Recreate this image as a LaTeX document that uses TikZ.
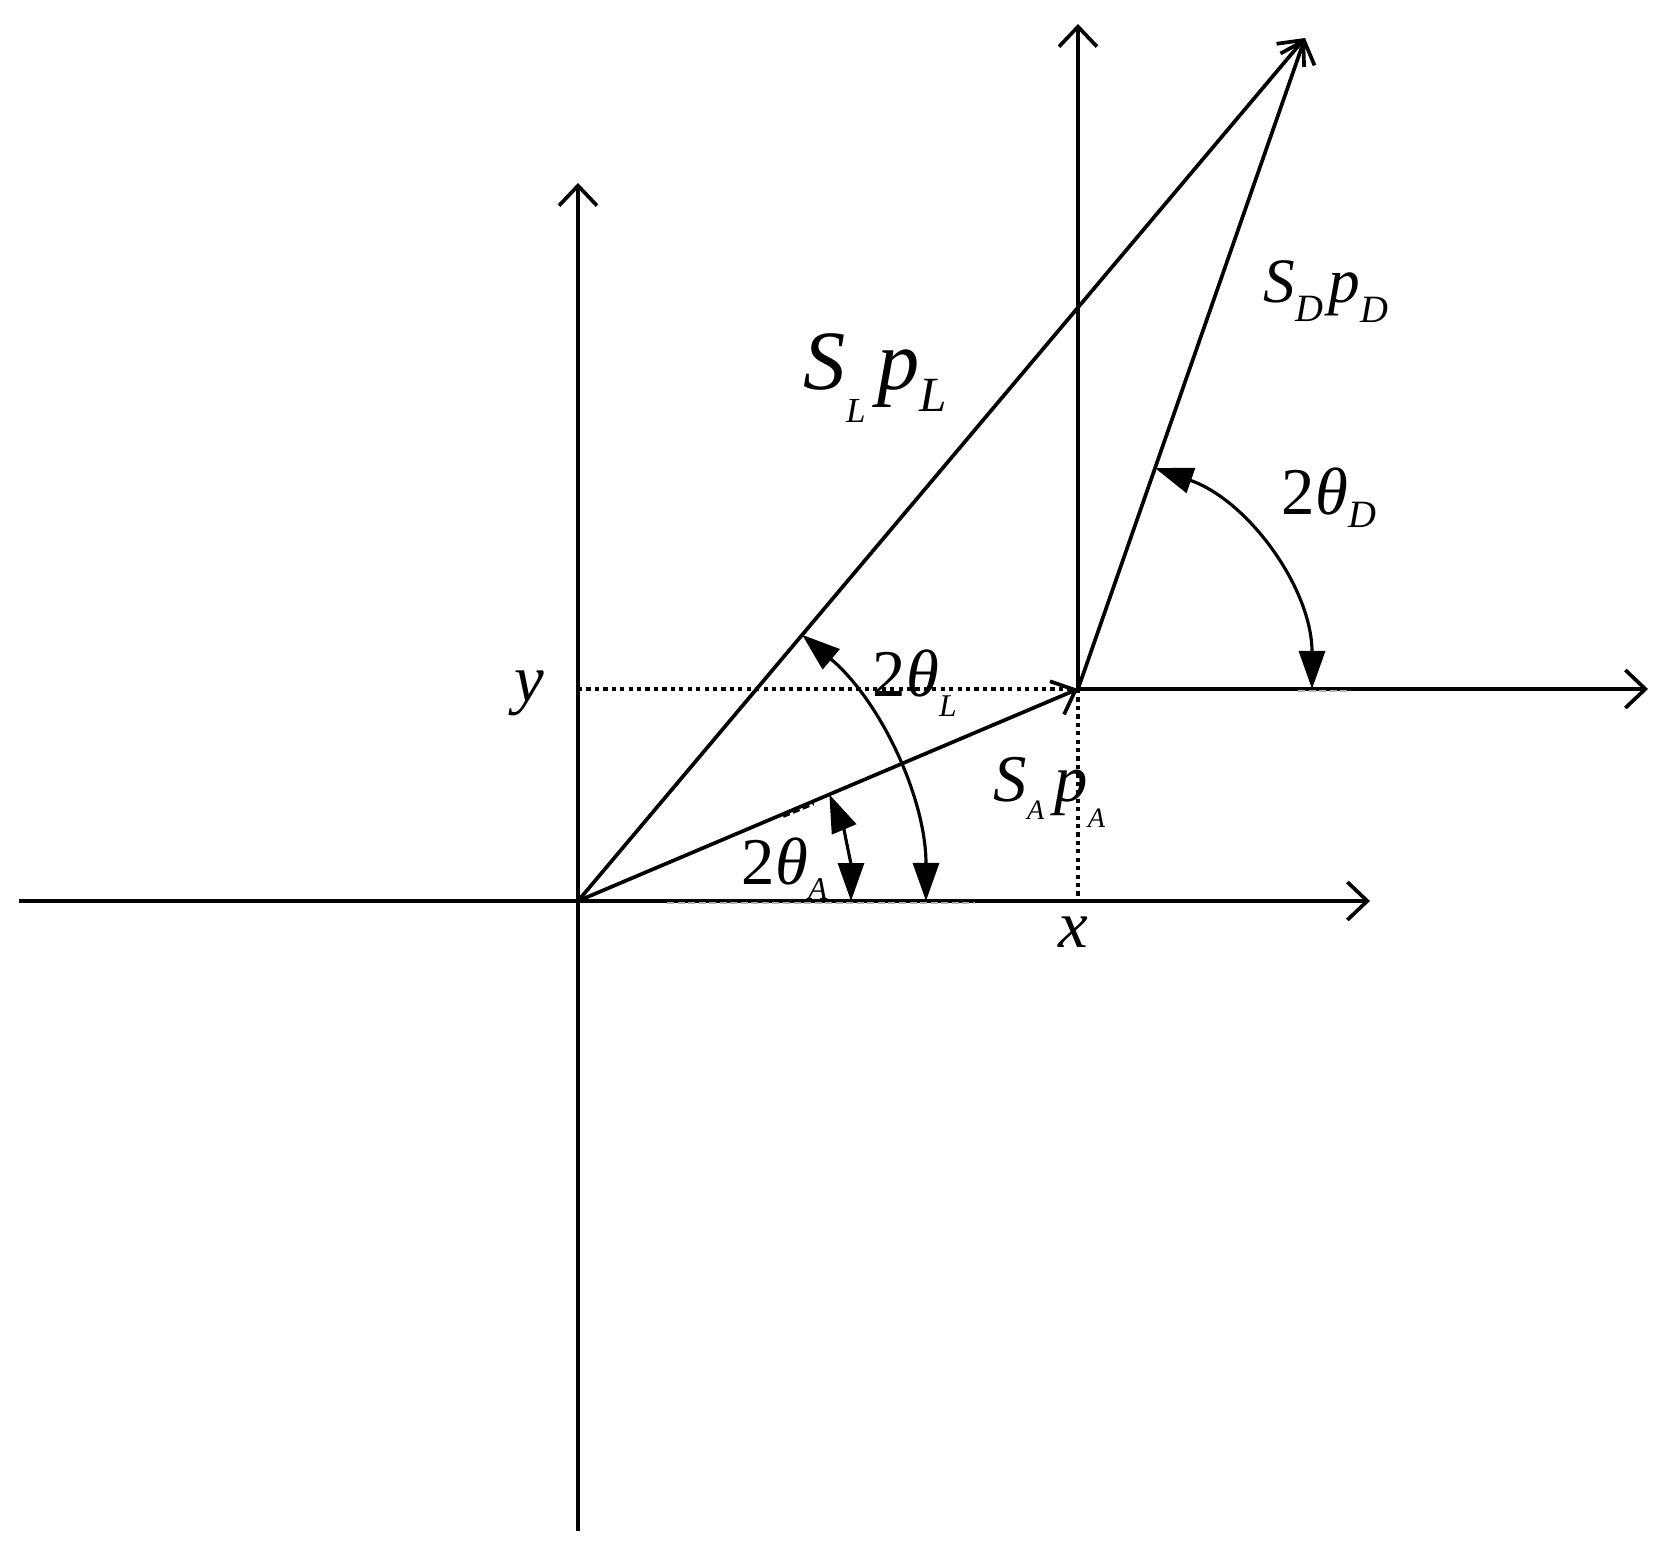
\documentclass[tikz,border=0pt]{standalone}
\usepackage{fontspec}
\setmainfont{Liberation Serif}
\usetikzlibrary{arrows.meta}
% lowered small italic letter: drop, size, letter
\newcommand{\lsub}[3]{\raisebox{-#1}{\fontsize{#2}{#2}\selectfont\itshape #3}}

\begin{document}
\begin{tikzpicture}[line width=1.05pt,
  axis/.style={-{Straight Barb[length=2mm,width=3.8mm]}},
  vec/.style={-{Straight Barb[length=2mm,width=3.6mm]}},
  ang/.style={{Triangle[length=3.8mm,width=2.6mm]}-{Triangle[length=3.8mm,width=2.6mm]}, line width=0.9pt},
  guide/.style={dash pattern=on 1.2pt off 1.2pt},
  trace/.style={gray!60, dash pattern=on 2pt off 1pt, line width=0.8pt},
  lbl/.style={anchor=base west, inner sep=0pt, font=\fontsize{19}{21}\selectfont}]
  \useasboundingbox (-5.78,-6.55) rectangle (10.94,9.01);
  % points
  \coordinate (o) at (0,0);
  \coordinate (p) at (5.00,2.12);
  \coordinate (t) at (7.27,8.63);
  \coordinate (xl) at (-5.59,0);
  \coordinate (xr) at (7.92,0);
  \coordinate (yb) at (0,-6.30);
  \coordinate (yt) at (0,7.18);
  \coordinate (px) at (5.00,0);
  \coordinate (py) at (0,2.12);
  \coordinate (ut) at (5.00,8.77);
  \coordinate (ur) at (10.70,2.12);
  % axes
  \draw [axis] (xl) -- (xr);
  \draw [axis] (yb) -- (yt);
  \draw [axis] (p) -- (ut);
  \draw [axis] (p) -- (ur);
  % projections of p
  \draw [guide] (py) -- (p);
  \draw [guide] (p) -- (px);
  % leftover dashes
  \draw [trace] (0.89,-0.02) -- (3.97,-0.02);
  \draw [trace] (7.20,2.10) -- (7.69,2.10);
  \draw [dash pattern=on 2pt off 1pt, line width=1.3pt] (22.6:2.22) -- (22.6:2.55);
  % vectors
  \draw [vec] (o) -- (p);
  \draw [vec] (o) -- (t);
  \draw [vec] (p) -- (t);
  % angles
  \draw [ang] (22.98:2.73) arc (22.98:0:2.73);
  \draw [ang] (49.89:3.48) arc (49.89:0:3.48);
  \draw [ang] ([shift={(70.78:2.34)}]p) arc (70.78:0:2.34);
  % labels
  \node [lbl] (ylab) at (-0.65,1.99) {\textit{y}};
  \node [lbl] (xlab) at (4.79,-0.46) {\textit{x}};
  \node [lbl] (al) at (2.93,2.04) {2\textit{θ}\lsub{0.2cm}{9}{L}};
  \node [lbl] (aa) at (1.62,0.16) {2\textit{θ}\lsub{0.15cm}{9}{A}};
  \node [lbl] (ad) at (7.02,3.86) {2\textit{θ}\lsub{0.13cm}{11}{D}};
  \node [lbl] (sa) at (4.14,0.99) {\textit{S}\lsub{0.18cm}{8}{A}\hspace{0.1cm}\textit{p}\lsub{0.26cm}{8}{A}};
  \node [lbl, font=\fontsize{18}{20}\selectfont] (sd) at (6.84,5.98) {\textit{S}\lsub{0.19cm}{11}{D}\hspace{0.05cm}\textit{p}\lsub{0.2cm}{11}{D}};
  \node [lbl, font=\fontsize{24}{27}\selectfont] (sl) at (2.24,5.11) {\textit{S}\lsub{0.33cm}{10}{L}\hspace{0.12cm}\textit{p}\lsub{0.22cm}{14}{L}};
\end{tikzpicture}
\end{document}
